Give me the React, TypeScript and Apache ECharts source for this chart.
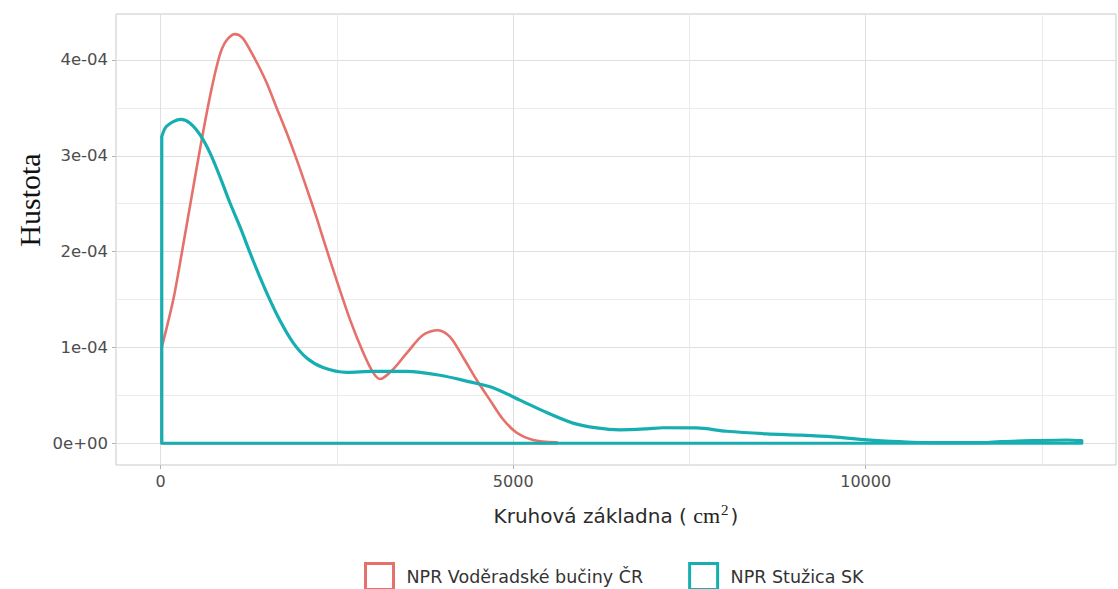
import React, { useEffect, useRef } from "react";
import * as echarts from "echarts";

// ---- data ----
const seriesNames = ["NPR Voděradské bučiny ČR", "NPR Stužica SK"];
const seriesColors = ["#E6706A", "#17AEB1"];

// x: basal area (cm²); y: density in units of 1e-4
const voderadskeX = [15, 179, 298, 445, 582, 699, 800, 870, 950, 1054, 1160, 1270, 1380, 1504, 1645, 1787, 1929, 2071, 2213, 2302, 2496, 2685, 2870, 3011, 3110, 3295, 3489, 3721, 3933, 4103, 4287, 4482, 4671, 4855, 5050, 5281, 5617];
const voderadskeY = [1.0, 1.5, 1.98, 2.6, 3.17, 3.62, 3.95, 4.12, 4.22, 4.27, 4.23, 4.1, 3.95, 3.76, 3.5, 3.24, 2.96, 2.66, 2.35, 2.14, 1.7, 1.29, 0.95, 0.74, 0.67, 0.77, 0.94, 1.13, 1.18, 1.11, 0.9, 0.66, 0.45, 0.25, 0.11, 0.035, 0.01];

const stuzicaX = [15, 85, 284, 416, 557, 699, 841, 982, 1124, 1309, 1504, 1692, 1877, 2071, 2302, 2638, 3011, 3489, 3962, 4387, 4713, 5096, 5475, 5848, 6184, 6511, 6894, 7125, 7603, 8028, 8596, 9068, 9536, 10014, 10486, 10954, 11664, 11905, 12373, 12851, 13064];
const stuzicaY = [3.2, 3.31, 3.38, 3.34, 3.22, 3.03, 2.78, 2.51, 2.26, 1.91, 1.57, 1.28, 1.05, 0.89, 0.79, 0.74, 0.75, 0.75, 0.71, 0.64, 0.58, 0.45, 0.32, 0.21, 0.16, 0.14, 0.15, 0.162, 0.16, 0.125, 0.098, 0.085, 0.067, 0.036, 0.017, 0.006, 0.006, 0.017, 0.027, 0.034, 0.027];

const Y_UNIT = 1e-4;

const xLabelTicks = [0, 5000, 10000];
const xGridTicks = [0, 2500, 5000, 7500, 10000, 12500];
const yLabelTicks = [0, 1e-4, 2e-4, 3e-4, 4e-4];
const yGridTicks = [0, 0.5e-4, 1e-4, 1.5e-4, 2e-4, 2.5e-4, 3e-4, 3.5e-4, 4e-4];

const X_MIN = -634;
const X_MAX = 13550;
const Y_MIN = -0.227e-4;
const Y_MAX = 4.48e-4;

function fmtY(v: number): string {
  if (Math.abs(v) < 1e-12) return "0e+00";
  return `${Math.round(v / 1e-4)}e-04`;
}

function buildSeries(name: string, color: string, xs: number[], ys: number[], width: number, z: number) {
  const pts = xs.map((x, i) => [x, ys[i] * Y_UNIT]);
  const first = pts[0];
  const last = pts[pts.length - 1];
  return [
    {
      name,
      type: "line",
      data: pts,
      smooth: 0.3,
      showSymbol: false,
      symbol: "none",
      lineStyle: { color, width, join: "round", cap: "round" },
      itemStyle: { color },
      z,
      clip: true,
    },
    {
      name,
      type: "line",
      data: [
        [last[0], last[1]],
        [last[0], 0],
        [first[0], 0],
        [first[0], first[1]],
      ],
      smooth: false,
      showSymbol: false,
      symbol: "none",
      lineStyle: { color, width, join: "round" },
      itemStyle: { color },
      z,
      clip: true,
    },
  ];
}

export default function App() {
  const ref = useRef<HTMLDivElement>(null);
  useEffect(() => {
    if (!ref.current) return;
    const chart = echarts.init(ref.current, undefined, { renderer: "svg" });
    const font = "'DejaVu Sans', 'Liberation Sans', Arial, sans-serif";
    const serif = "'Liberation Serif', 'Times New Roman', serif";
    const option: any = {
      animation: false,
      backgroundColor: "#ffffff",
      grid: {
        left: 116,
        right: 2,
        top: 14,
        bottom: 124,
        show: true,
        borderColor: "#c9c9c9",
        borderWidth: 1,
        backgroundColor: "transparent",
      },
      legend: {
        left: 364,
        top: 562,
        itemWidth: 28,
        itemHeight: 26,
        itemGap: 45,
        padding: 0,
        selectedMode: false,
        textStyle: { fontFamily: font, fontSize: 17.5, color: "#333333", padding: [0, 0, 0, 8] },
        data: seriesNames.map((n, i) => ({
          name: n,
          icon: "rect",
          itemStyle: { color: "rgba(255,255,255,0)", borderColor: seriesColors[i], borderWidth: 3 },
        })),
      },
      xAxis: [
        {
          type: "value",
          min: X_MIN,
          max: X_MAX,
          axisLine: { show: false, onZero: false },
          axisTick: { show: false, customValues: xGridTicks },
          splitLine: { show: true, lineStyle: { color: "#ebebeb", width: 1 } },
          axisLabel: {
            customValues: xLabelTicks,
            formatter: (v: number) => String(v),
            color: "#4d4d4d",
            fontFamily: font,
            fontSize: 16,
            margin: 8,
          },
          name: "{a|Kruhová základna ( }{b|cm}{s|2}{a|)}",
          nameLocation: "middle",
          nameGap: 37,
          nameTextStyle: {
            rich: {
              a: { fontFamily: font, fontSize: 20, color: "#2b2b2b" },
              b: { fontFamily: serif, fontSize: 22, color: "#222222" },
              s: {
                fontFamily: serif,
                fontSize: 15,
                color: "#222222",
                verticalAlign: "top",
                padding: [0, 2, 12, 1],
              },
            },
          },
        },
        {
          type: "value",
          min: X_MIN,
          max: X_MAX,
          position: "bottom",
          axisLine: { show: false, onZero: false },
          axisTick: { show: true, customValues: xLabelTicks, length: 4, lineStyle: { color: "#b3b3b3" } },
          splitLine: { show: true, lineStyle: { color: "#dfdfdf", width: 1 } },
          axisLabel: { show: false },
        },
      ],
      yAxis: [
        {
          type: "value",
          min: Y_MIN,
          max: Y_MAX,
          axisLine: { show: false, onZero: false },
          axisTick: { show: false, customValues: yGridTicks },
          splitLine: { show: true, lineStyle: { color: "#ebebeb", width: 1 } },
          axisLabel: {
            customValues: yLabelTicks,
            formatter: fmtY,
            color: "#4d4d4d",
            fontFamily: font,
            fontSize: 16.5,
            margin: 8,
          },
        },
        {
          type: "value",
          min: Y_MIN,
          max: Y_MAX,
          position: "left",
          axisLine: { show: false, onZero: false },
          axisTick: { show: true, customValues: yLabelTicks, length: 4, lineStyle: { color: "#b3b3b3" } },
          splitLine: { show: true, lineStyle: { color: "#dfdfdf", width: 1 } },
          axisLabel: { show: false },
        },
      ],
      graphic: [
        {
          type: "text",
          x: 29,
          y: 200,
          rotation: Math.PI / 2,
          style: {
            text: "Hustota",
            fontFamily: serif,
            fontSize: 30,
            fill: "#111111",
            align: "center",
            verticalAlign: "middle",
          },
        },
      ],
      series: [
        ...buildSeries(seriesNames[0], seriesColors[0], voderadskeX, voderadskeY, 2.6, 2),
        ...buildSeries(seriesNames[1], seriesColors[1], stuzicaX, stuzicaY, 3.2, 3),
      ],
    };
    chart.setOption(option);
    return () => chart.dispose();
  }, []);
  return (
    <div
      ref={ref}
      style={{ position: "fixed", left: 0, top: 0, width: 1118, height: 589, background: "#fff" }}
    />
  );
}
